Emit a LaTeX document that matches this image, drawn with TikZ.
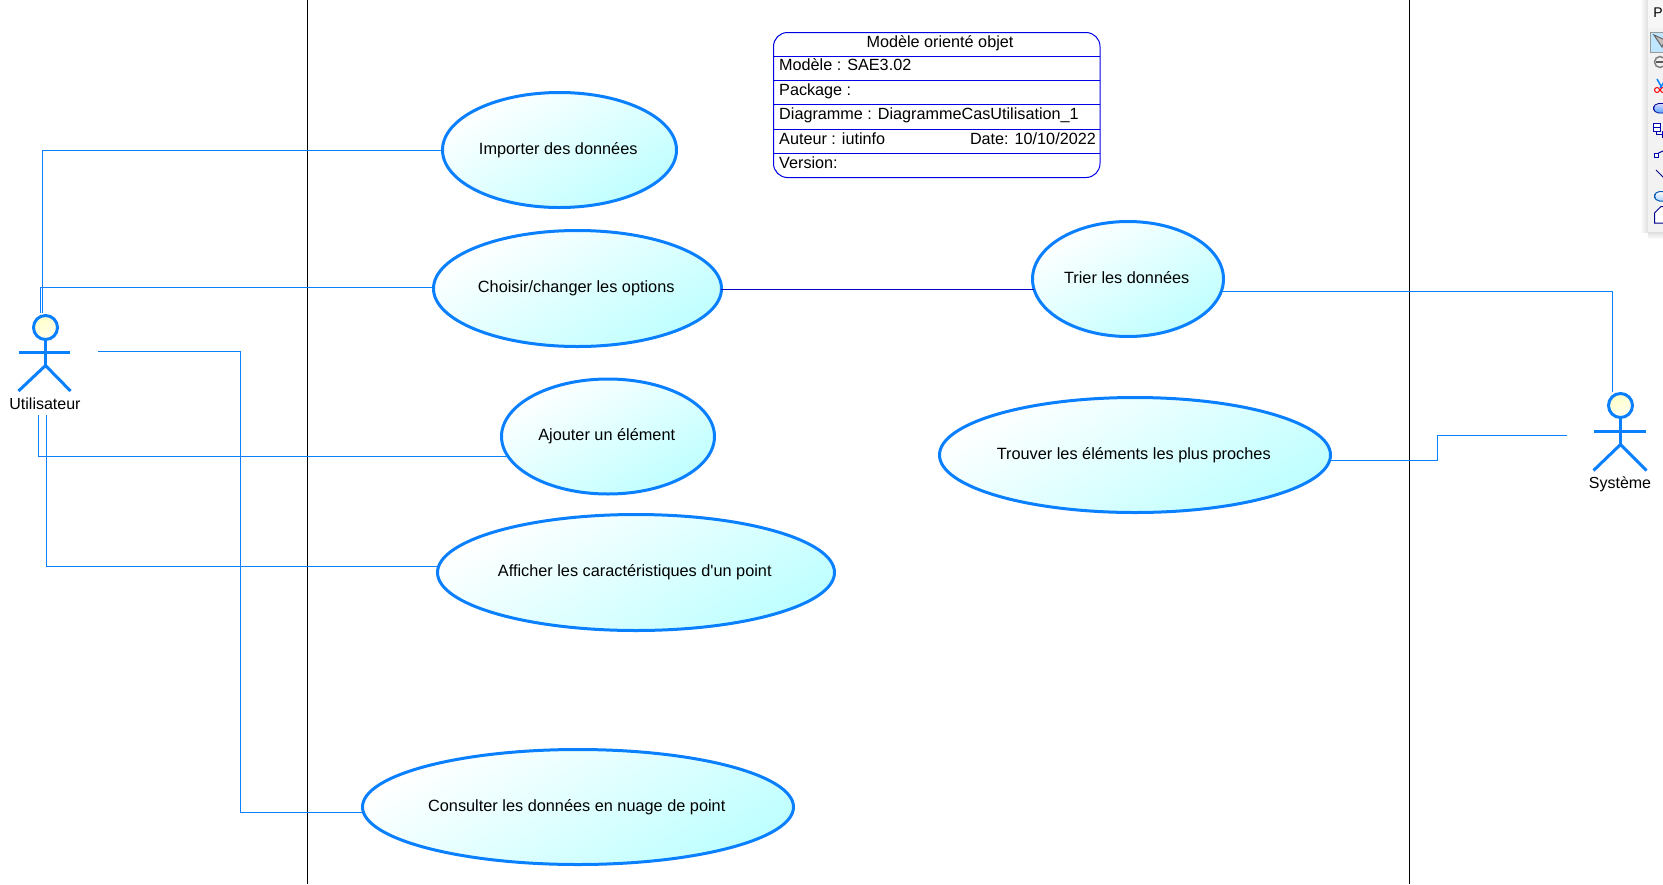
\documentclass[tikz,border=0pt]{standalone}
\usepackage{fontspec}
\setmainfont{Liberation Sans}[Ligatures=TeXOff]
\usetikzlibrary{shapes.geometric,calc}
\definecolor{ublue}{HTML}{0A80FF}
\definecolor{tblue}{HTML}{0000E6}
\definecolor{ucyan}{HTML}{BFFFFF}
\definecolor{headtop}{HTML}{FFFFC8}
\definecolor{headbot}{HTML}{FFFFF0}
\newcommand{\uctext}[1]{\raisebox{2.5pt}{#1}\hspace*{2.5pt}}
\tikzset{
  ucase/.style={ellipse,draw=ublue,line width=3pt,inner sep=0pt,top color=white,bottom color=ucyan,shading angle=30,
     font=\fontsize{16.3}{19}\selectfont,text=black},
  conn/.style={draw=ublue,line width=1pt},
  conndark/.style={draw=tblue!85!black,line width=1pt},
  lifeline/.style={draw=black,line width=1pt},
  limb/.style={draw=ublue,line width=3pt},
  head/.style={circle,draw=ublue,line width=3pt,minimum size=24pt,inner sep=0pt,top color=headtop,bottom color=headbot,shading angle=30},
  actorlabel/.style={font=\fontsize{16}{19}\selectfont,text=black,inner sep=0pt},
  titletext/.style={font=\fontsize{16.2}{19}\selectfont,text=black,inner sep=0pt},
  titleline/.style={draw=tblue,line width=1pt},
}
\begin{document}
\begin{tikzpicture}[x=1pt,y=-1pt]
\useasboundingbox (0,0) rectangle (1663,884);
\fill[white] (0,0) rectangle (1663,884);

% vertical system borders
\coordinate (ltop) at (307.5,0); \coordinate (lbot) at (307.5,884);
\coordinate (rtop) at (1409.5,0); \coordinate (rbot) at (1409.5,884);
\draw[lifeline] (ltop) -- (lbot);
\draw[lifeline] (rtop) -- (rbot);

% use cases
\node[ucase,minimum width=234pt,minimum height=115pt] (imp) at (559.5,150) {\uctext{Importer des données}};
\node[ucase,minimum width=288pt,minimum height=116pt] (cho) at (577.5,288.5) {\uctext{Choisir/changer les options}};
\node[ucase,minimum width=213pt,minimum height=115pt] (ajo) at (608,436.5) {\uctext{Ajouter un élément}};
\node[ucase,minimum width=397pt,minimum height=116pt] (aff) at (636,572.5) {\uctext{Afficher les caractéristiques d'un point}};
\node[ucase,minimum width=431pt,minimum height=115pt] (con) at (578,807) {\uctext{Consulter les données en nuage de point}};
\node[ucase,minimum width=191pt,minimum height=115pt] (tri) at (1128,279) {\raisebox{1pt}{\uctext{Trier les données}}};
\node[ucase,minimum width=391pt,minimum height=115pt] (tro) at (1135,455) {\uctext{Trouver les éléments les plus proches}};

% title block
\coordinate (tbNW) at (773.5,32.5); \coordinate (tbSE) at (1100,177.5);
\draw[titleline,rounded corners=14pt] (tbNW) rectangle (tbSE);
\foreach \yy in {56.5,80.5,104.5,129,153.5}{\draw[titleline] (773.5,\yy) -- (1100,\yy);}
\node[titletext,anchor=base] (t0) at (940,47.5) {Modèle orienté objet};
\node[titletext,anchor=base west] (t1) at (779,70.5) {Modèle : SAE3.02};
\node[titletext,anchor=base west] (t2) at (779,95.5) {Package :};
\node[titletext,anchor=base west] (t3) at (779,119) {Diagramme : DiagrammeCasUtilisation\_1};
\node[titletext,anchor=base west] (t4) at (779,144) {Auteur : iutinfo};
\node[titletext,anchor=base east] (t5) at (1096,144) {Date: 10/10/2022};
\node[titletext,anchor=base west] (t6) at (779,168) {Version:};

% actor left
\node[head] (uh) at (45.5,327.5) {};
\coordinate (ub) at (45.5,365.5);
\coordinate (ual) at (19,352.5); \coordinate (uar) at (70,352.5);
\coordinate (ull) at (18.5,391); \coordinate (ulr) at (70.5,391);
\draw[limb] (uh.south) -- (ub);
\draw[limb] (ual) -- (uar);
\draw[limb] (ull) -- (ub) -- (ulr);
\node[actorlabel] (ul) at (45,404) {Utilisateur};

% actor right
\node[head] (sh) at (1620.5,405.5) {};
\coordinate (sb) at (1620.5,444.5);
\coordinate (sal) at (1594,431.5); \coordinate (sar) at (1646,431.5);
\coordinate (sll) at (1593.5,470.5); \coordinate (slr) at (1646.5,470.5);
\draw[limb] (sh.south) -- (sb);
\draw[limb] (sal) -- (sar);
\draw[limb] (sll) -- (sb) -- (slr);
\node[actorlabel] (sl) at (1620,484) {Système};

% connector ends
\coordinate (u1) at (42.5,313);
\coordinate (u2) at (40.5,313);
\coordinate (u3) at (98,351.5);
\coordinate (u4) at (38.5,415);
\coordinate (u5) at (46.5,415);
\coordinate (c3) at (240.5,600);
\coordinate (s1) at (1612.5,391.5);
\coordinate (s2) at (1567,435.5);
\coordinate (m2) at (1437.5,447);

% connectors
\draw[conn] (u1) |- ($(imp.center)+(-116,0.5)$);
\draw[conn] (u2) |- ($(cho.center)+(-143,-1)$);
\draw[conn] (u3) -| (c3) |- ($(con.center)+(-214,5.5)$);
\draw[conn] (u4) |- ($(ajo.center)+(-101,20)$);
\draw[conn] (u5) |- ($(aff.center)+(-197,-6)$);
\draw[conndark] ($(cho.center)+(143,1)$) -- ($(tri.center)+(-94.5,10.5)$);
\draw[conn] ($(tri.center)+(93,12.5)$) -| (s1);
\draw[conn] ($(tro.center)+(194.5,5.5)$) -| (m2) |- (s2);

% toolbar at the right edge, cropped
\shade[left color=white,right color=black!13] (1640,0) rectangle (1648,232);
\shade[top color=black!13,bottom color=white] (1648,232) rectangle (1663,239);
\fill[black!5] (1648,0) rectangle (1663,232);
\fill[white!97!black] (1648,0) rectangle (1663,28);
\node[font=\fontsize{14}{16}\selectfont,text=black,inner sep=0pt] (tp) at (1658,12.5) {P};
\draw[black!40,fill=blue!40!cyan!25,line width=1pt] (1650.5,32.5) rectangle (1668,52);
\draw[black!60,fill=black!25,line width=1pt] (1654,35) -- (1665,40) -- (1662,47) -- cycle;
\draw[black!50,fill=black!6,line width=1.5pt] (1660,62) circle (5.5pt);
\draw[black!65,line width=2pt] (1656,62) -- (1665,62);
\draw[ublue,line width=1.5pt] (1657,79) -- (1662,88);
\draw[ublue,line width=1.5pt] (1666,79) -- (1660,88);
\draw[red,line width=1pt] (1657,90) circle (2.5pt);
\draw[red,line width=1pt] (1663,90) circle (2.5pt);
\draw[blue!60!black,top color=blue!15,bottom color=ublue!70,rounded corners=5pt,line width=.8pt] (1653.5,103.5) rectangle (1672,113);
\draw[blue!70!black,line width=1pt,fill=white] (1653.5,123.5) rectangle (1660,131);
\draw[blue!70!black,line width=1pt] (1653.5,127) -- (1660,127);
\draw[blue!70!black,line width=1pt] (1656.5,131) -- (1656.5,134.5) -- (1662,134.5);
\draw[blue!70!black,line width=1pt,fill=white] (1662,131) rectangle (1668,137);
\draw[blue!70!black,line width=1pt,fill=white] (1654.5,153) rectangle (1658.5,157);
\draw[blue!70!black,line width=1pt] (1658.5,153) -- (1664,150.5);
\draw[blue!50!black,line width=1pt] (1656,170) -- (1664,178);
\draw[ublue!70!black,top color=white,bottom color=ublue!35,rounded corners=5pt,line width=1pt] (1654.5,191.5) rectangle (1672,201);
\draw[blue!55!black,fill=white,line width=1pt] (1654.5,223) -- (1654.5,213) -- (1661,206.5) -- (1672,206.5) -- (1672,223) -- cycle;
\end{tikzpicture}
\end{document}
